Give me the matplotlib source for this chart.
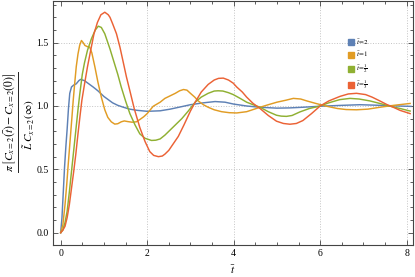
import matplotlib
matplotlib.use('Agg')
import matplotlib.pyplot as plt
from matplotlib.ticker import MultipleLocator
from matplotlib.lines import Line2D

# values
t_2 = [0, 0.03, 0.06, 0.09, 0.12, 0.15, 0.18, 0.21, 0.25, 0.3, 0.36, 0.42, 0.46, 0.55, 0.63,
       0.75, 0.86, 1.0, 1.1, 1.2, 1.32, 1.45, 1.6, 1.76, 2.0, 2.3, 2.53, 2.8, 3.0, 3.3, 3.57,
       3.8, 4.0, 4.3, 4.6, 5.0, 5.3, 5.6, 6.0, 6.5, 6.92, 7.4, 7.8, 8.1]
c_2 = [0, 0.12, 0.32, 0.52, 0.68, 0.82, 0.98, 1.1, 1.15, 1.165, 1.175, 1.2, 1.21, 1.2, 1.18,
       1.15, 1.12, 1.075, 1.05, 1.025, 1.005, 0.99, 0.975, 0.966, 0.958, 0.962, 0.975, 0.995,
       1.01, 1.025, 1.035, 1.03, 1.015, 1.0, 0.99, 0.983, 0.985, 0.99, 0.998, 1.005, 1.01,
       1.005, 1.0, 0.997]

t_1 = [0, 0.05, 0.1, 0.14, 0.17, 0.2, 0.23, 0.26, 0.29, 0.33, 0.36, 0.4, 0.44, 0.48, 0.52,
       0.56, 0.62, 0.67, 0.72, 0.79, 0.86, 0.94, 1.02, 1.09, 1.17, 1.25, 1.32, 1.4, 1.47, 1.55,
       1.65, 1.75, 1.83, 1.92, 2.0, 2.14, 2.3, 2.41, 2.53, 2.65, 2.75, 2.84, 2.92, 3.0, 3.1,
       3.18, 3.3, 3.41, 3.55, 3.72, 3.9, 4.07, 4.3, 4.61, 4.8, 5.0, 5.2, 5.38, 5.55, 5.69, 5.9,
       6.15, 6.4, 6.6, 6.84, 7.1, 7.38, 7.7, 8.08]
c_1 = [0, 0.06, 0.22, 0.38, 0.52, 0.65, 0.78, 0.91, 1.045, 1.2, 1.31, 1.41, 1.48, 1.517, 1.5,
       1.478, 1.468, 1.465, 1.42, 1.31, 1.19, 1.07, 0.97, 0.91, 0.875, 0.857, 0.86, 0.875,
       0.882, 0.877, 0.872, 0.875, 0.893, 0.915, 0.94, 0.998, 1.03, 1.06, 1.08, 1.1, 1.12,
       1.13, 1.125, 1.1, 1.07, 1.04, 1.01, 0.99, 0.97, 0.955, 0.947, 0.945, 0.955, 0.99, 1.01,
       1.03, 1.045, 1.06, 1.055, 1.04, 1.02, 0.998, 0.98, 0.972, 0.97, 0.975, 0.99, 1.005, 1.02]

t_half = [0, 0.05, 0.1, 0.15, 0.2, 0.24, 0.28, 0.32, 0.36, 0.4, 0.44, 0.5, 0.55, 0.62, 0.71,
          0.8, 0.87, 0.94, 1.02, 1.09, 1.14, 1.23, 1.32, 1.4, 1.5, 1.6, 1.72, 1.83, 1.95, 2.1,
          2.2, 2.3, 2.41, 2.53, 2.65, 2.8, 2.95, 3.11, 3.25, 3.41, 3.55, 3.64, 3.75, 3.88, 3.99,
          4.15, 4.3, 4.45, 4.61, 4.8, 4.99, 5.1, 5.22, 5.35, 5.53, 5.75, 6.0, 6.2, 6.45, 6.69,
          6.9, 7.15, 7.38, 7.6, 7.85, 8.08]
c_half = [0, 0.02, 0.08, 0.17, 0.32, 0.45, 0.58, 0.71, 0.84, 0.97, 1.09, 1.25, 1.34, 1.44,
          1.53, 1.6, 1.63, 1.62, 1.57, 1.5, 1.45, 1.35, 1.25, 1.15, 1.04, 0.94, 0.85, 0.78,
          0.745, 0.728, 0.73, 0.74, 0.77, 0.81, 0.85, 0.9, 0.96, 1.03, 1.07, 1.1, 1.118, 1.12,
          1.118, 1.105, 1.09, 1.06, 1.03, 1.01, 0.99, 0.955, 0.927, 0.92, 0.918, 0.925, 0.953,
          0.98, 1.0, 1.025, 1.05, 1.06, 1.055, 1.04, 1.02, 1.0, 0.98, 0.96]

t_third = [0, 0.05, 0.1, 0.15, 0.2, 0.25, 0.3, 0.35, 0.4, 0.45, 0.49, 0.55, 0.62, 0.7, 0.77,
           0.85, 0.93, 1.02, 1.1, 1.14, 1.2, 1.29, 1.37, 1.45, 1.52, 1.6, 1.7, 1.83, 1.95,
           2.06, 2.15, 2.26, 2.35, 2.41, 2.5, 2.6, 2.72, 2.85, 3.0, 3.11, 3.25, 3.41, 3.55,
           3.65, 3.76, 3.88, 3.99, 4.07, 4.2, 4.3, 4.45, 4.61, 4.8, 4.99, 5.15, 5.3, 5.45, 5.6,
           5.8, 6.0, 6.2, 6.46, 6.65, 6.84, 7.05, 7.2, 7.38, 7.55, 7.69, 7.85, 8.08]
c_third = [0, 0.02, 0.05, 0.12, 0.22, 0.35, 0.48, 0.62, 0.78, 0.93, 1.045, 1.17, 1.31, 1.45,
           1.57, 1.66, 1.72, 1.74, 1.72, 1.7, 1.65, 1.57, 1.465, 1.34, 1.23, 1.12, 0.98, 0.83,
           0.72, 0.64, 0.61, 0.6, 0.605, 0.62, 0.65, 0.7, 0.76, 0.85, 0.96, 1.03, 1.11, 1.17,
           1.205, 1.218, 1.22, 1.205, 1.18, 1.15, 1.11, 1.07, 1.02, 0.98, 0.925, 0.88, 0.862,
           0.856, 0.862, 0.885, 0.94, 1.0, 1.04, 1.076, 1.095, 1.1, 1.09, 1.07, 1.04, 1.01,
           0.99, 0.965, 0.94]

labels = [r'$\bar{t}\!=\!2$', r'$\bar{t}\!=\!1$', r'$\bar{t}\!=\!\frac{1}{2}$',
          r'$\bar{t}\!=\!\frac{1}{3}$']
colors = ['#5E81B5', '#E19C24', '#8FB032', '#EB6235']
x_grid = [2, 4, 6, 8]
y_grid = [0.5, 1.0, 1.5]
ylab_num = r'$\pi\,\left[C_{x=2}\left(\bar{t}\right)-C_{x=2}\left(0\right)\right]$'
ylab_den = r'$\tilde{L}\;C_{x=2}\left(\infty\right)$'

plt.rcParams['font.family'] = ['Liberation Serif', 'DejaVu Serif']
plt.rcParams['mathtext.fontset'] = 'stix'

fig = plt.figure(figsize=(4.15, 2.77), dpi=100)
ax = fig.add_axes([0.1285, 0.117, 0.866, 0.88])

# dotted grid only at the labelled positions (not at zero)
for gx in x_grid:
    ax.axvline(gx, ls=':', color='#c4c4c4', lw=0.7, zorder=0)
for gy in y_grid:
    ax.axhline(gy, ls=':', color='#c4c4c4', lw=0.7, zorder=0)

series = [(t_2, c_2), (t_1, c_1), (t_half, c_half), (t_third, c_third)]
for (t, c), col in zip(series, colors):
    ax.plot(t, c, color=col, lw=1.05)

ax.set_xlim(-0.17, 8.14)
ax.set_ylim(-0.094, 1.83)
ax.set_xticks([0, 2, 4, 6, 8])
ax.set_yticks([0.0, 0.5, 1.0, 1.5])
ax.set_yticklabels(['0.0', '0.5', '1.0', '1.5'])
ax.xaxis.set_minor_locator(MultipleLocator(0.5))
ax.yaxis.set_minor_locator(MultipleLocator(0.1))
ax.tick_params(which='both', direction='in', top=True, right=True, labelsize=7,
               color='#444444', width=0.6)
ax.tick_params(which='major', length=3.5)
ax.tick_params(which='minor', length=2)
for s in ax.spines.values():
    s.set_color('#444444')
    s.set_linewidth(0.8)

ax.set_xlabel(r'$\bar{t}$', fontsize=8, labelpad=3.5)

# y label as a stacked fraction: numerator, bar, denominator
fig.text(10 / 415, 1 - 122 / 277, ylab_num, rotation=90, fontsize=8.5,
         ha='center', va='center')
fig.add_artist(Line2D([17.5 / 415, 17.5 / 415], [1 - 72 / 277, 1 - 172 / 277],
                      color='#222222', lw=0.7))
fig.text(29.5 / 415, 1 - 125 / 277, ylab_den, rotation=90, fontsize=8,
         ha='center', va='center')

handles = [Line2D([], [], ls='none', marker='s', ms=4.3, color=c) for c in colors]
ax.legend(handles, labels, loc='upper left', bbox_to_anchor=(0.8, 0.875), frameon=False,
          fontsize=5, handlelength=1, handletextpad=0.3, labelspacing=0.5)

fig.savefig('out.png', dpi=100)
